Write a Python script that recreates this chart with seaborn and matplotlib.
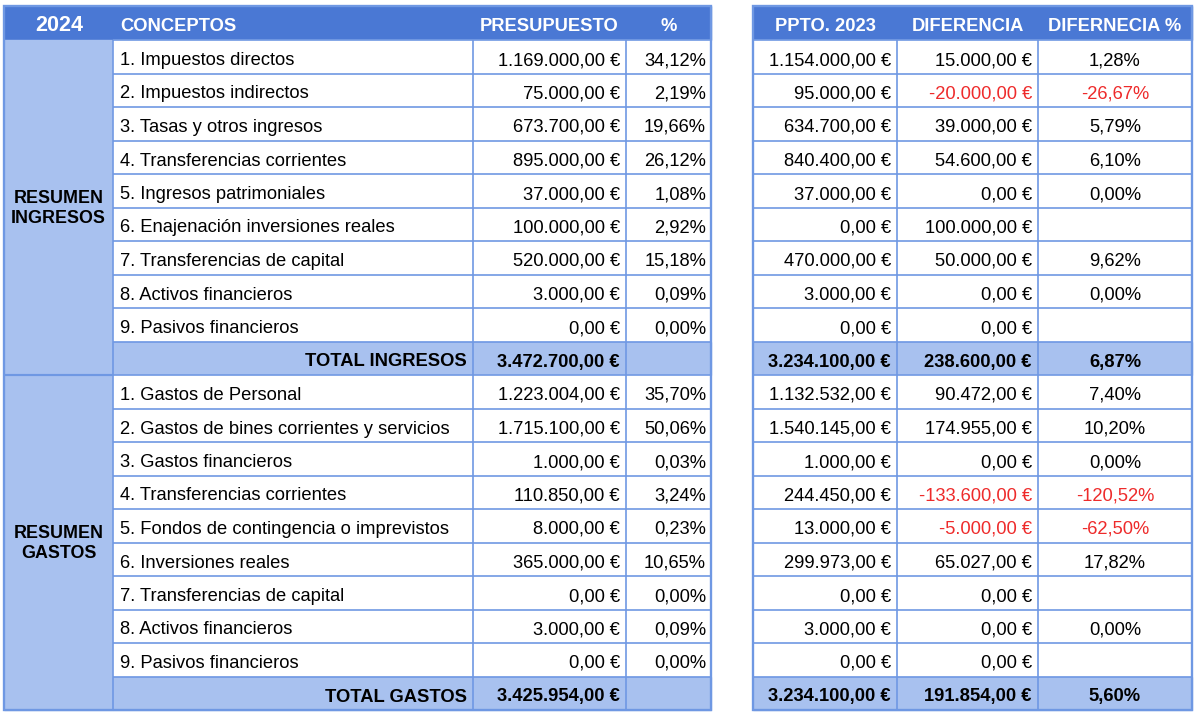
import numpy as np
import matplotlib.pyplot as plt
import seaborn as sns
from matplotlib.patches import Rectangle

# datos de la tabla
year = "2024"
headers_left = ["CONCEPTOS", "PRESUPUESTO", "%"]
headers_right = ["PPTO. 2023", "DIFERENCIA", "DIFERNECIA %"]

ing_label = ["RESUMEN", "INGRESOS"]
ing_conceptos = ["1. Impuestos directos", "2. Impuestos indirectos", "3. Tasas y otros ingresos",
                 "4. Transferencias corrientes", "5. Ingresos patrimoniales",
                 "6. Enajenación inversiones reales", "7. Transferencias de capital",
                 "8. Activos financieros", "9. Pasivos financieros"]
ing_presupuesto = [1169000, 75000, 673700, 895000, 37000, 100000, 520000, 3000, 0]
ing_pct = [34.12, 2.19, 19.66, 26.12, 1.08, 2.92, 15.18, 0.09, 0.00]
ing_ppto_2023 = [1154000, 95000, 634700, 840400, 37000, 0, 470000, 3000, 0]
ing_diferencia = [15000, -20000, 39000, 54600, 0, 100000, 50000, 0, 0]
ing_dif_pct = [1.28, -26.67, 5.79, 6.10, 0.00, None, 9.62, 0.00, None]
ing_total = ["TOTAL INGRESOS", 3472700, None, 3234100, 238600, 6.87]

gas_label = ["RESUMEN", "GASTOS"]
gas_conceptos = ["1. Gastos de Personal", "2. Gastos de bines corrientes y servicios",
                 "3. Gastos financieros", "4. Transferencias corrientes",
                 "5. Fondos de contingencia o imprevistos", "6. Inversiones reales",
                 "7. Transferencias de capital", "8. Activos financieros", "9. Pasivos financieros"]
gas_presupuesto = [1223004, 1715100, 1000, 110850, 8000, 365000, 0, 3000, 0]
gas_pct = [35.70, 50.06, 0.03, 3.24, 0.23, 10.65, 0.00, 0.09, 0.00]
gas_ppto_2023 = [1132532, 1540145, 1000, 244450, 13000, 299973, 0, 3000, 0]
gas_diferencia = [90472, 174955, 0, -133600, -5000, 65027, 0, 0, 0]
gas_dif_pct = [7.40, 10.20, 0.00, -120.52, -62.50, 17.82, None, 0.00, None]
gas_total = ["TOTAL GASTOS", 3425954, None, 3234100, 191854, 5.60]

HEAD = "#4a78d4"
LIGHT = "#a8c1ef"
LINE = "#6f98e3"
RED = "#ee2b2b"


def euro(v):
    s = f"{v:,.2f}".replace(",", "X").replace(".", ",").replace("X", ".")
    return s + " €"


def pct(v):
    if v is None:
        return ""
    return f"{v:.2f}".replace(".", ",") + "%"


sns.set_theme(style="white")
plt.rcParams["font.family"] = ["Liberation Sans", "DejaVu Sans"]

fig = plt.figure(figsize=(12, 7.18), dpi=100)
ax = fig.add_axes([0, 0, 1, 1])
ax.set_xlim(0, 1200)
ax.set_ylim(718, 0)
ax.axis("off")

xl = [4, 113, 473, 626, 711]
xr = [753, 897, 1038, 1192]
top, head_b, bottom = 6, 40, 710
row_h = (bottom - head_b) / 20
fs = 13.2
lw = 1.2

# cabecera
ax.add_patch(Rectangle((xl[0], top), xl[-1] - xl[0], head_b - top, color=HEAD, zorder=1))
ax.add_patch(Rectangle((xr[0], top), xr[-1] - xr[0], head_b - top, color=HEAD, zorder=1))
hb = top + 24.7
ax.text((xl[0] + xl[1]) / 2 + 1, hb + 0.5, year, color="white", weight="bold", fontsize=15.5,
        ha="center", va="baseline")
ax.text(xl[1] + 7, hb, headers_left[0], color="white", weight="bold", fontsize=fs,
        ha="left", va="baseline")
ax.text((xl[2] + xl[3]) / 2, hb, headers_left[1], color="white", weight="bold", fontsize=fs,
        ha="center", va="baseline")
ax.text((xl[3] + xl[4]) / 2, hb, headers_left[2], color="white", weight="bold", fontsize=fs,
        ha="center", va="baseline")
for j, h in enumerate(headers_right):
    ax.text((xr[j] + xr[j + 1]) / 2, hb, h, color="white", weight="bold", fontsize=fs,
            ha="center", va="baseline")

sections = [
    (ing_label, ing_conceptos, ing_presupuesto, ing_pct, ing_ppto_2023, ing_diferencia,
     ing_dif_pct, ing_total),
    (gas_label, gas_conceptos, gas_presupuesto, gas_pct, gas_ppto_2023, gas_diferencia,
     gas_dif_pct, gas_total),
]

for s, (label, conc, pres, pc, p23, dif, dpc, tot) in enumerate(sections):
    y0 = head_b + s * 10 * row_h
    # columna de grupo
    ax.add_patch(Rectangle((xl[0], y0), xl[1] - xl[0], 10 * row_h, color=LIGHT, zorder=1))
    yc = y0 + 5 * row_h
    gx = (xl[0] + xl[1]) / 2
    ax.text(gx, yc - 4.7, label[0], weight="bold", fontsize=fs - 0.3, ha="center",
            va="baseline", color="black")
    ax.text(gx, yc + 15.8, label[1], weight="bold", fontsize=fs - 0.3, ha="center",
            va="baseline", color="black")

    for i in range(10):
        ry = y0 + i * row_h
        is_tot = i == 9
        fill = LIGHT if is_tot else "white"
        ax.add_patch(Rectangle((xl[1], ry), xl[-1] - xl[1], row_h, color=fill, zorder=1))
        ax.add_patch(Rectangle((xr[0], ry), xr[-1] - xr[0], row_h, color=fill, zorder=1))
        by = ry + 25
        if is_tot:
            vals = [tot[0], euro(tot[1]), pct(tot[2]), euro(tot[3]), euro(tot[4]), pct(tot[5])]
            neg = [False, False, False, False, tot[4] < 0, tot[5] is not None and tot[5] < 0]
        else:
            vals = [conc[i], euro(pres[i]), pct(pc[i]), euro(p23[i]), euro(dif[i]), pct(dpc[i])]
            neg = [False, False, False, False, dif[i] < 0, dpc[i] is not None and dpc[i] < 0]
        wt = "bold" if is_tot else "normal"
        cols = [RED if n else "black" for n in neg]
        if is_tot:
            ax.text(xl[2] - 6, by, vals[0], ha="right", va="baseline", fontsize=fs,
                    weight=wt, color=cols[0])
        else:
            ax.text(xl[1] + 7, by, vals[0], ha="left", va="baseline", fontsize=fs,
                    weight=wt, color=cols[0])
        ax.text(xl[3] - 6, by, vals[1], ha="right", va="baseline", fontsize=fs,
                weight=wt, color=cols[1])
        ax.text(xl[4] - 5, by, vals[2], ha="right", va="baseline", fontsize=fs,
                weight=wt, color=cols[2])
        ax.text(xr[1] - 6, by, vals[3], ha="right", va="baseline", fontsize=fs,
                weight=wt, color=cols[3])
        ax.text(xr[2] - 6, by, vals[4], ha="right", va="baseline", fontsize=fs,
                weight=wt, color=cols[4])
        ax.text((xr[2] + xr[3]) / 2, by, vals[5], ha="center", va="baseline", fontsize=fs,
                weight=wt, color=cols[5])

# lineas de la cuadricula
row_edges = head_b + np.arange(21) * row_h
for y in row_edges:
    ax.hlines(y, xl[1], xl[-1], color=LINE, lw=lw, zorder=3)
    ax.hlines(y, xr[0], xr[-1], color=LINE, lw=lw, zorder=3)
ax.hlines(head_b + 10 * row_h, xl[0], xl[1], color=LINE, lw=lw * 1.3, zorder=3)
for x in xl[1:-1]:
    ax.vlines(x, head_b, bottom, color=LINE, lw=lw, zorder=3)
for x in xr[1:-1]:
    ax.vlines(x, head_b, bottom, color=LINE, lw=lw, zorder=3)
ax.add_patch(Rectangle((xl[0], top), xl[-1] - xl[0], bottom - top, fill=False,
                       edgecolor=LINE, lw=lw * 1.4, zorder=4))
ax.add_patch(Rectangle((xr[0], top), xr[-1] - xr[0], bottom - top, fill=False,
                       edgecolor=LINE, lw=lw * 1.4, zorder=4))

fig.savefig("out.png", dpi=100)
